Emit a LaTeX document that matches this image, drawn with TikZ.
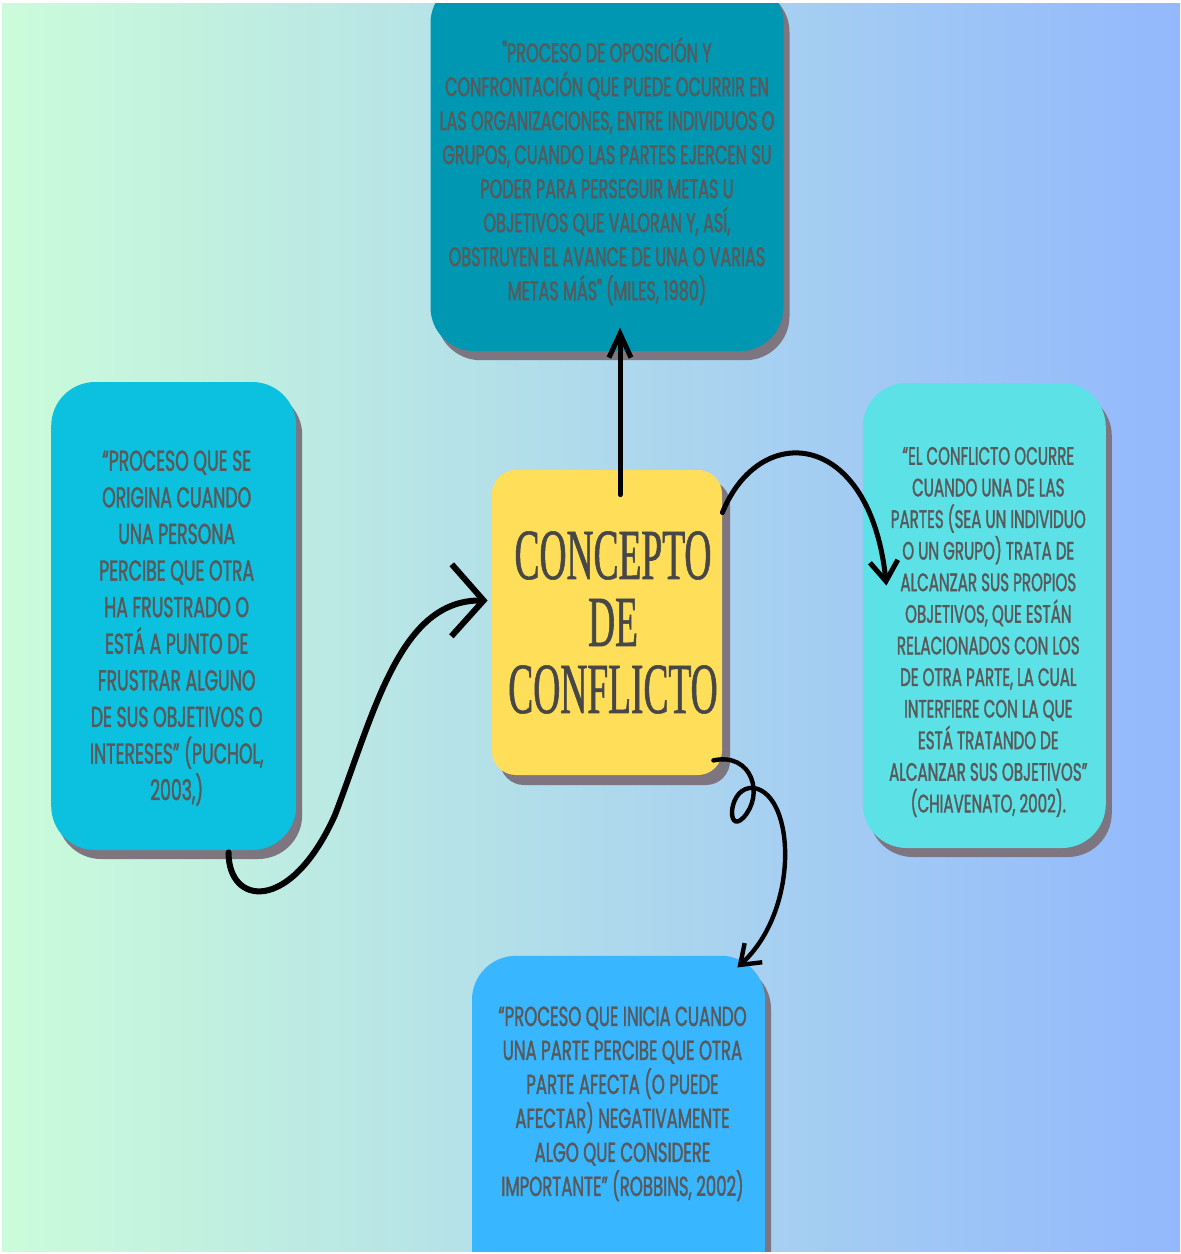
\documentclass[tikz,border=0pt]{standalone}
\usepackage{fontspec}
\usepackage{tikz}
\usetikzlibrary {arrows.meta,
                 bending,
                 calc,
                 positioning,
                 shadows}
\newfontfamily\quotefont[FakeStretch=0.6, FakeBold=1.3]{Poppins}
\newfontfamily\titlefont[FakeStretch=0.52, FakeBold=0.8]{Liberation Serif}
\definecolor{bgleft}{HTML}{CBFCDA}
\definecolor{bgmid}{HTML}{B4E2E6}
\definecolor{bgright}{HTML}{93B8FD}
\definecolor{milesfill}{HTML}{0097B2}
\definecolor{pucholfill}{HTML}{0CC0DF}
\definecolor{chiavfill}{HTML}{5CE1E6}
\definecolor{robbfill}{HTML}{38B6FF}
\definecolor{conceptfill}{HTML}{FFDE59}
\definecolor{blobshadow}{HTML}{7D7580}
\definecolor{inktext}{HTML}{595959}
\tikzset{
        base/.style={align=center, text=inktext, inner sep=0pt},
        blob/.style={rounded corners=22pt,
                     drop shadow={shadow xshift=3pt, shadow yshift=-4.5pt,
                                  fill=blobshadow, opacity=1}},
        quote/.style 2 args={base, font=\quotefont\fontsize{#1}{#2}\selectfont},
        title/.style={base, rounded corners=12pt, fill=conceptfill,
                      font=\titlefont\fontsize{36pt}{33.5pt}\selectfont,
                      text=black!72,
                      drop shadow={shadow xshift=4pt, shadow yshift=-5pt,
                                   fill=blobshadow, opacity=1}},
        myarrow/.style={line width=2.5pt, line cap=round},
 }

\begin{document}
\begin{tikzpicture}[x=0.5pt, y=-0.5pt]
    \useasboundingbox (0,0) rectangle (1180,1254);
    \fill[white] (0,0) rectangle (1180,1254);
    \shade[left color=bgleft, middle color=bgmid, right color=bgright]
          (2,3) rectangle (1180,1251);
    \clip (2,3) rectangle (1180,1251);

    \node[title, minimum width=115pt, minimum height=152.5pt] (concept)
         at (607,622.5) {\hspace*{6pt}CONCEPTO\\\hspace*{6pt}DE\\\hspace*{6pt}CONFLICTO};
    \node[blob, fill=milesfill, minimum width=176.5pt, minimum height=186pt,
          above=59pt of concept,
          label={[quote={13.4pt}{17pt}, yshift=-3pt]center:{%
          "PROCESO DE OPOSICIÓN Y\\
          CONFRONTACIÓN QUE PUEDE OCURRIR EN\\
          LAS ORGANIZACIONES, ENTRE INDIVIDUOS O\\
          GRUPOS, CUANDO LAS PARTES EJERCEN SU\\
          PODER PARA PERSEGUIR METAS U\\
          OBJETIVOS QUE VALORAN Y, ASÍ,\\
          OBSTRUYEN EL AVANCE DE UNA O VARIAS\\
          METAS MÁS" (MILES, 1980)}}] (miles) {};
    \node[blob, fill=pucholfill, minimum width=122.5pt, minimum height=234pt,
          left=97.5pt of concept, yshift=3.25pt,
          label={[quote={14.4pt}{18.3pt}, xshift=1.5pt, yshift=-6pt]center:{%
          “PROCESO QUE SE\\ ORIGINA CUANDO\\ UNA PERSONA\\
          PERCIBE QUE OTRA\\ HA FRUSTRADO O\\ ESTÁ A PUNTO DE\\
          FRUSTRAR ALGUNO\\ DE SUS OBJETIVOS O\\
          INTERESES” (PUCHOL,\\ 2003,)}}] (puchol) {};
    \node[blob, fill=chiavfill, minimum width=121.5pt, minimum height=232.5pt,
          right=70pt of concept, yshift=3.5pt,
          label={[quote={12.6pt}{15.8pt}, xshift=2pt, yshift=-8.25pt]center:{%
          “EL CONFLICTO OCURRE\\ CUANDO UNA DE LAS\\
          PARTES (SEA UN INDIVIDUO\\ O UN GRUPO) TRATA DE\\
          ALCANZAR SUS PROPIOS\\ OBJETIVOS, QUE ESTÁN\\
          RELACIONADOS CON LOS\\ DE OTRA PARTE, LA CUAL\\
          INTERFIERE CON LA QUE\\ ESTÁ TRATANDO DE\\
          ALCANZAR SUS OBJETIVOS”\\ (CHIAVENATO, 2002).}}] (chiavenato) {};
    \node[blob, fill=robbfill, minimum width=146.5pt, minimum height=167.5pt,
          below=90pt of concept, xshift=5.75pt,
          label={[quote={13.8pt}{17pt}, xshift=2pt, yshift=9.75pt]center:{%
          “PROCESO QUE INICIA CUANDO\\ UNA PARTE PERCIBE QUE OTRA\\
          PARTE AFECTA (O PUEDE\\ AFECTAR) NEGATIVAMENTE\\
          ALGO QUE CONSIDERE\\ IMPORTANTE” (ROBBINS, 2002)}}] (robbins) {};

    % connectors
    \draw[myarrow, -{Straight Barb[length=12pt, width=11pt]}]
         ($(concept.north)+(13,25)$) -- ($(miles.south)+(13,-24)$);
    \draw[myarrow, line width=3pt, -{Straight Barb[quick, length=16pt, width=36pt]}]
         ($(puchol.south east)+(-68,2)$) .. controls (228,905) and (290,915) ..
         (335,815) .. controls (375,710) and (400,600) ..
         ($(concept.west)+(-4,-22)$);
    \draw[myarrow, -{Straight Barb[quick, length=10pt, width=14pt]}]
         ($(concept.north east)+(0,43)$) .. controls (760,420) and (870,430) ..
         ($(chiavenato.west)+(24,-30)$);
    \draw[myarrow, line width=2.2pt, -{Straight Barb[quick, length=9pt, width=13pt]}]
         ($(concept.south east)+(-9,-15)$) .. controls (752,752) and (765,795) ..
         (743,818) .. controls (726,835) and (728,785) ..
         (754,788) .. controls (795,795) and (800,910) ..
         ($(robbins.north east)+(-28,12)$);

\end{tikzpicture}
\end{document}
